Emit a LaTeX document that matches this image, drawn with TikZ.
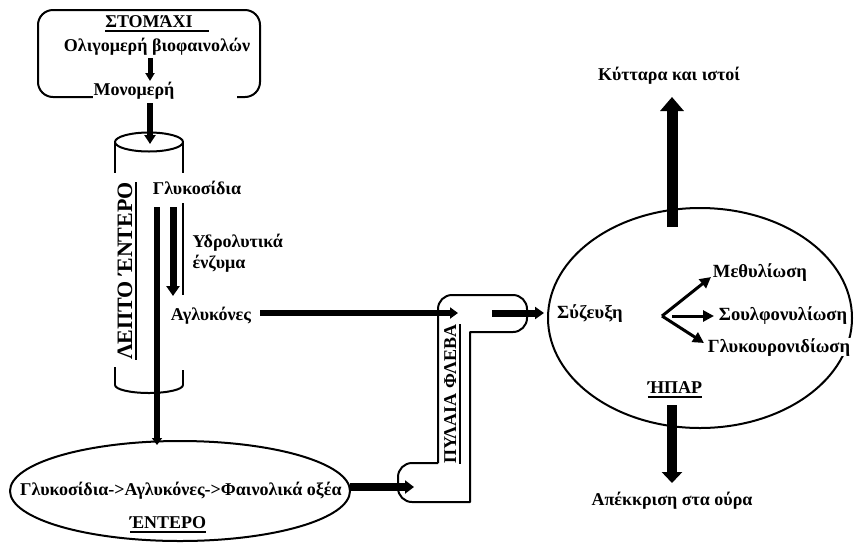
\documentclass[tikz,border=0pt]{standalone}
\usepackage{fontspec}
\setmainfont{Liberation Serif}
\usetikzlibrary{arrows.meta}
% bold underline that keeps working inside rotated nodes; optional extra length to the right
\newcommand\ulbold[2][0pt]{\setbox0\hbox{#2}\rlap{\vrule height -3pt depth 4.6pt width \dimexpr\wd0+#1\relax}\box0}

\begin{document}
\begin{tikzpicture}[x=1pt,y=-1pt,
  txt/.style={font=\fontsize{18}{20}\selectfont\bfseries, inner sep=0.5pt, anchor=base, fill=white},
  big/.style={font=\fontsize{22}{24}\selectfont\bfseries},
  liv/.style={font=\fontsize{18.6}{20}\selectfont\bfseries},
  outline/.style={line width=2pt, line join=round},
  flow/.style n args={3}{line width=#1, -{Triangle[width=#2,length=#3]}},
]
\useasboundingbox (0,0) rectangle (854,542);

% ---------- stomach ----------
\draw[outline, rounded corners=15] (95,97) -- (38,97) -- (38,10) -- (260,10) -- (260,97) -- (237,97);
\node[txt, fill=none] (stomlbl) at (149,27) {\ulbold[16pt]{ΣΤΟΜΆΧΙ}};
\node[txt] (olig) at (157,51) {Ολιγομερή βιοφαινολών};
\node[txt] (mono) at (134,95) {Μονομερή};
\coordinate (o1) at (150,58);
\coordinate (o2) at (150,81);
\draw[flow={5}{9}{8}] (o1) -- (o2);

% ---------- small intestine (cylinder) ----------
\draw[outline] (149,142) ellipse [x radius=34, y radius=9.5];
\draw[outline] (115,142) -- (115,173) (115,367) -- (115,385)
               (183,142) -- (183,173) (183,203) -- (183,295) (183,370) -- (183,385);
\draw[outline] (115,385) arc [start angle=180, end angle=0, x radius=34, y radius=8];

\coordinate (s1) at (150,103);
\coordinate (s2) at (150,144);
\draw[flow={6}{11}{9}] (s1) -- (s2);

\node[txt, big, rotate=90] (lepto) at (132,271) {\ulbold{ΛΕΠΤΟ ΈΝΤΕΡΟ}};
\node[txt] (gluc) at (197,194) {Γλυκοσίδια};
\node[txt, anchor=base west] (hydro1) at (192,247) {Υδρολυτικά};
\node[txt, anchor=base west] (hydro2) at (192,268) {ένζυμα};
\node[txt] (aglyc) at (211,320) {Αγλυκόνες};

\coordinate (l1) at (157,207);
\coordinate (l2) at (157,445);
\draw[flow={5.5}{10}{7}] (l1) -- (l2);
\coordinate (h1) at (173,207);
\coordinate (h2) at (173,296);
\draw[flow={7}{13}{10}] (h1) -- (h2);

% ---------- intestine ----------
\draw[outline] (180,491) ellipse [x radius=170, y radius=50];
\node[txt] (enttext) at (181,495) {Γλυκοσίδια->Αγλυκόνες->Φαινολικά οξέα};
\node[txt] (entlbl) at (168,528) {\ulbold{ΈΝΤΕΡΟ}};

% ---------- portal vein ----------
\draw[outline] (438,463) -- (438,309)
  arc [start angle=180, end angle=270, radius=14] -- (513,295)
  arc [start angle=270, end angle=360, radius=14] -- (527,318)
  arc [start angle=0, end angle=90, radius=14] -- (470,332) -- (470,502) -- (412,502)
  arc [start angle=90, end angle=180, radius=14] -- (398,477)
  arc [start angle=180, end angle=270, radius=14] -- (438,463);
\node[txt, rotate=90] (veinlbl) at (456,394) {\ulbold{ΠΥΛΑΙΑ ΦΛΕΒΑ}};

\coordinate (e1) at (350,487);
\coordinate (e2) at (414,487);
\draw[flow={8}{13}{9}] (e1) -- (e2);
\coordinate (a1) at (260,313);
\coordinate (a2) at (458,313);
\draw[flow={6.5}{11}{8}] (a1) -- (a2);
\coordinate (v1) at (492,313);
\coordinate (v2) at (544,313);
\draw[flow={7}{12}{9}] (v1) -- (v2);

% ---------- liver ----------
\draw[outline] (700,318) ellipse [x radius=152, y radius=110];
\coordinate (u1) at (672,227);
\coordinate (u2) at (672,97);
\draw[flow={11}{23}{14}] (u1) -- (u2);
\coordinate (d1) at (672,405);
\coordinate (d2) at (672,483);
\draw[flow={10}{20}{11}] (d1) -- (d2);

\node[txt, liv] (syz) at (590,318) {Σύζευξη};
\node[txt, liv] (meth) at (760,277) {Μεθυλίωση};
\node[txt, liv] (soulf) at (783,320) {Σουλφονυλίωση};
\node[txt, liv] (glucur) at (779,352) {Γλυκουρονιδίωση};
\node[txt] (hpar) at (675,393) {\ulbold{ΉΠΑΡ}};
\node[txt] (cells) at (669,80) {Κύτταρα και ιστοί};
\node[txt] (urine) at (672,505) {Απέκκριση στα ούρα};

\coordinate (c0) at (662,316);
\coordinate (c1) at (672,316);
\coordinate (m1) at (711,277);
\coordinate (m2) at (714,316);
\coordinate (m3) at (704,343);
\draw[flow={3}{11}{11}] (c0) -- (m1);
\draw[flow={3}{11}{11}] (c1) -- (m2);
\draw[flow={3}{11}{11}] (c0) -- (m3);
\end{tikzpicture}
\end{document}
